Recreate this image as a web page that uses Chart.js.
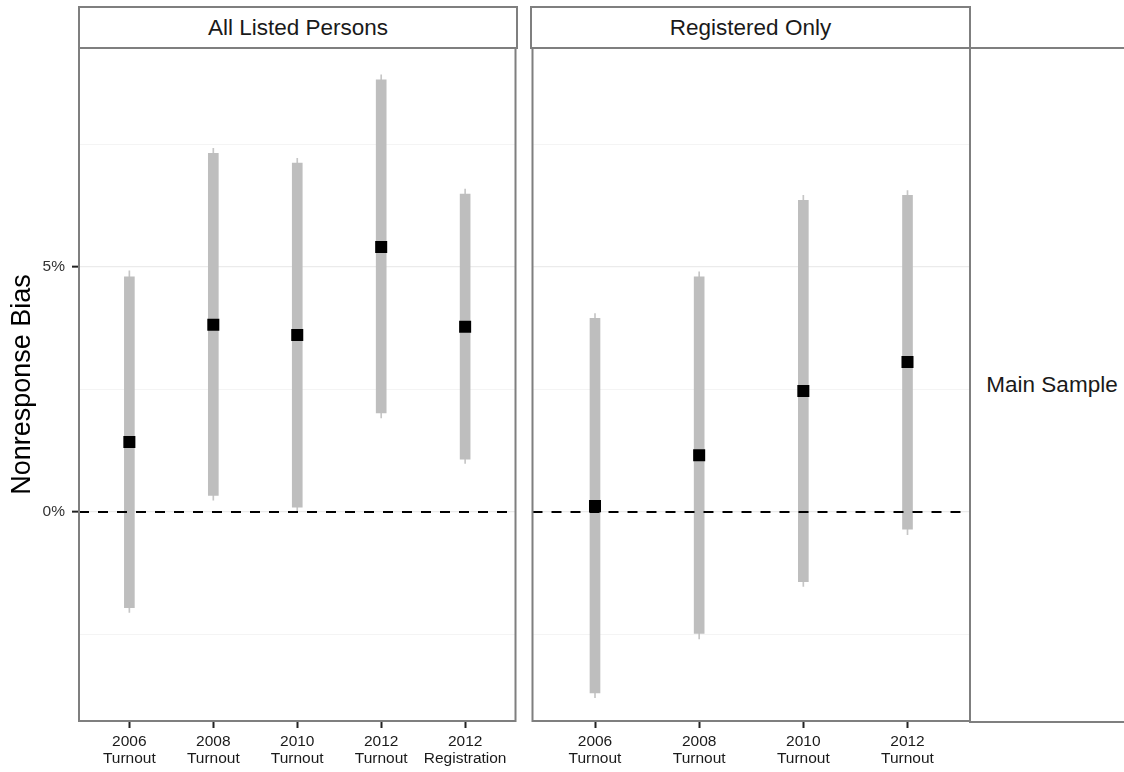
<!DOCTYPE html>
<html><head><meta charset="utf-8">
<script src="https://cdn.jsdelivr.net/npm/chart.js@4.4.1/dist/chart.umd.min.js"></script>
<style>
html,body{margin:0;padding:0;background:#fff;}
body{width:1124px;height:772px;position:relative;overflow:hidden;font-family:"Liberation Sans",Arial,sans-serif;}
canvas{position:absolute;top:0;}
.strip{position:absolute;box-sizing:border-box;border:2px solid #7f7f7f;background:#fff;color:#1a1a1a;font-size:22.5px;display:flex;align-items:center;justify-content:center;}
</style></head><body>
<canvas id="c1" width="524" height="772" style="left:0;width:524px;height:772px"></canvas>
<canvas id="c2" width="600" height="772" style="left:524px;width:600px;height:772px"></canvas>
<div class="strip" style="left:78px;top:6px;width:440px;height:43px">All Listed Persons</div>
<div class="strip" style="left:530px;top:6px;width:441px;height:43px">Registered Only</div>
<div class="strip" style="left:969px;top:47px;width:164px;height:676px;border-right:none">Main Sample</div>
<script>
// ---- data (percent) ----
const leftCategories = [["2006","Turnout"],["2008","Turnout"],["2010","Turnout"],["2012","Turnout"],["2012","Registration"]];
const leftEstimate  = [1.43, 3.82, 3.61, 5.41, 3.78];
const leftInnerLow  = [-1.95, 0.34, 0.10, 2.02, 1.08];
const leftInnerHigh = [4.80, 7.32, 7.12, 8.82, 6.49];
const leftOuterLow  = [-2.05, 0.24, 0.00, 1.92, 0.99];
const leftOuterHigh = [4.92, 7.42, 7.22, 8.92, 6.59];

const rightCategories = [["2006","Turnout"],["2008","Turnout"],["2010","Turnout"],["2012","Turnout"]];
const rightEstimate  = [0.12, 1.16, 2.47, 3.06];
const rightInnerLow  = [-3.69, -2.48, -1.42, -0.35];
const rightInnerHigh = [3.95, 4.80, 6.36, 6.46];
const rightOuterLow  = [-3.79, -2.59, -1.52, -0.46];
const rightOuterHigh = [4.05, 4.90, 6.46, 6.56];

const yTickValues = [0, 5];
const yTickLabels = ["0%", "5%"];
const yGridValues = [-2.5, 0, 2.5, 5, 7.5];
const referenceValue = 0;
const yTitle = "Nonresponse Bias";

// ---- rendering ----
Chart.defaults.font.family = '"Liberation Sans", Arial, sans-serif';
Chart.defaults.color = '#1a1a1a';
const Y_MIN = -4.265, Y_MAX = 9.469, X_EXPAND = 0.6;

const panelBox = {
  id: 'panelBox',
  afterDraw(chart) {
    const {ctx, chartArea: a} = chart;
    ctx.save();
    ctx.strokeStyle = '#7f7f7f';
    ctx.lineWidth = 2;
    ctx.strokeRect(a.left, a.top, a.right - a.left, a.bottom - a.top);
    ctx.restore();
  }
};

function makePanel(id, cats, est, inLo, inHi, outLo, outHi, showY, padLeft, padRight) {
  const n = cats.length;
  const xMin = -X_EXPAND, xMax = n - 1 + X_EXPAND;
  return new Chart(document.getElementById(id), {
    type: 'bar',
    data: {
      datasets: [
        { type: 'scatter', data: est.map((v, i) => ({x: i, y: v})), pointStyle: 'rect',
          pointRadius: 8.5, pointHoverRadius: 8.5, backgroundColor: '#000', borderWidth: 0, order: 0 },
        { type: 'line', data: [{x: xMin, y: referenceValue}, {x: xMax, y: referenceValue}],
          borderColor: '#000', borderWidth: 2, borderDash: [10, 9], pointRadius: 0, order: 1 },
        { type: 'bar', data: inLo.map((v, i) => ({x: i, y: [v, inHi[i]]})), backgroundColor: '#bebebe',
          barThickness: 10, grouped: false, borderWidth: 0, order: 2 },
        { type: 'bar', data: outLo.map((v, i) => ({x: i, y: [v, outHi[i]]})), backgroundColor: '#c6c6c6',
          barThickness: 1, grouped: false, borderWidth: 0, order: 3 }
      ]
    },
    options: {
      responsive: false, animation: false, devicePixelRatio: 1,
      layout: { padding: { top: 48, bottom: 0, left: padLeft, right: padRight } },
      plugins: { legend: { display: false }, tooltip: { enabled: false } },
      scales: {
        x: {
          type: 'linear', min: xMin, max: xMax, bounds: 'data', offset: false,
          afterBuildTicks: s => { s.ticks = cats.map((c, i) => ({value: i})); },
          afterFit: s => { s.height = 51; },
          ticks: { callback: v => cats[v], color: '#1a1a1a', font: {size: 15.5, lineHeight: 1.1},
                   padding: 5, maxRotation: 0, autoSkip: false },
          grid: { offset: false, drawOnChartArea: false, drawTicks: true, tickLength: 7, tickColor: '#222', tickWidth: 2 },
          border: { display: false }
        },
        y: {
          type: 'linear', min: Y_MIN, max: Y_MAX, bounds: 'data',
          afterBuildTicks: s => { s.ticks = yGridValues.map(v => ({value: v})); },
          afterFit: s => { s.width = showY ? 79 : 0; },
          ticks: { display: showY, color: '#333', font: {size: 15.5}, padding: 7,
                   callback: v => { const k = yTickValues.indexOf(v); return k >= 0 ? yTickLabels[k] : ''; } },
          grid: {
            color: c => (c.tick && yTickValues.includes(c.tick.value)) ? '#ebebeb' : '#f4f4f4',
            lineWidth: c => (c.tick && yTickValues.includes(c.tick.value)) ? 1.3 : 1,
            drawTicks: showY, tickLength: 7, tickWidth: 2,
            tickColor: c => (c.tick && yTickValues.includes(c.tick.value)) ? '#222' : 'rgba(0,0,0,0)'
          },
          border: { display: false },
          title: { display: showY, text: yTitle, color: '#000', font: {size: 27}, padding: {top: 6, bottom: 0} }
        }
      }
    },
    plugins: [panelBox]
  });
}

makePanel('c1', leftCategories, leftEstimate, leftInnerLow, leftInnerHigh, leftOuterLow, leftOuterHigh, true, 0, 7);
makePanel('c2', rightCategories, rightEstimate, rightInnerLow, rightInnerHigh, rightOuterLow, rightOuterHigh, false, 7, 154);
</script>
</body></html>
